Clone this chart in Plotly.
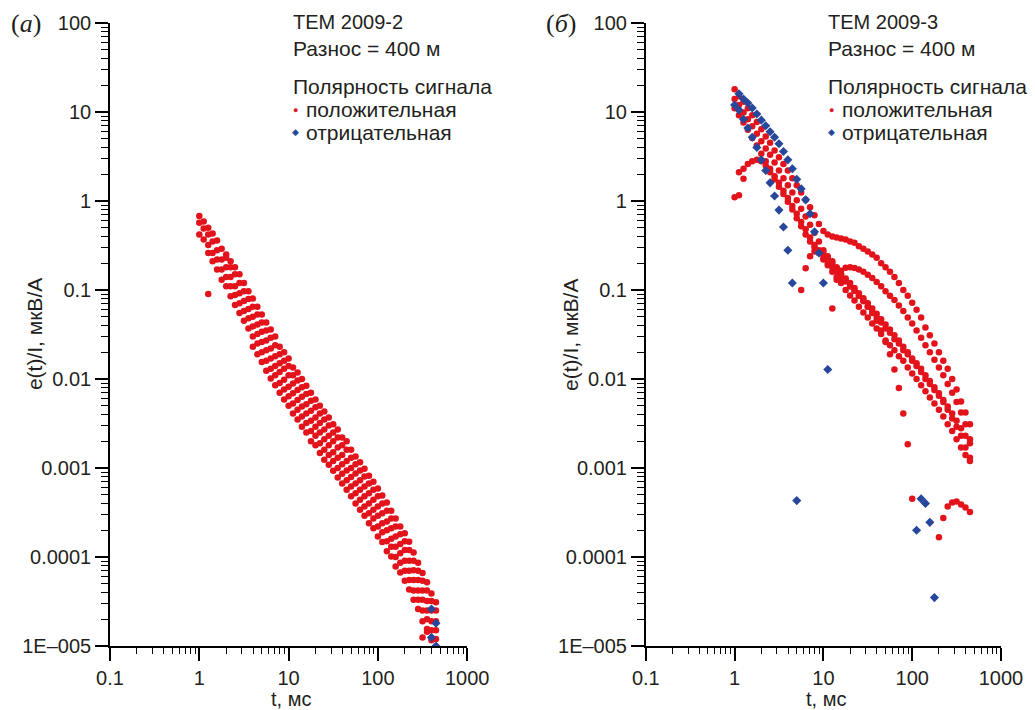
import plotly.graph_objects as go

# ---------------- data ----------------
# time gates, ms
gates = [1.00, 1.12, 1.26, 1.41, 1.58, 1.78, 2.00, 2.24, 2.51, 2.82,
         3.16, 3.55, 3.98, 4.47, 5.01, 5.62, 6.31, 7.08, 7.94, 8.91,
         10.0, 11.2, 12.6, 14.1, 15.8, 17.8, 20.0, 22.4, 25.1, 28.2,
         31.6, 35.5, 39.8, 44.7, 50.1, 56.2, 63.1, 70.8, 79.4, 89.1,
         100, 112, 126, 141, 158, 178, 200, 224, 251, 282,
         316, 355, 398, 447]

# panel (a): TEM 2009-2, positive polarity (several soundings)
a_pos_1 = [0.25, 0.21, 0.18, 0.15, 0.12, 0.097, 0.080, 0.065, 0.053, 0.043,
           0.036, 0.030, 0.023, 0.020, 0.017, 0.0135, 0.0118, 0.0100, 0.0084, 0.0070,
           0.0059, 0.0050, 0.0043, 0.0037, 0.0031, 0.0027, 0.0022, 0.0020, 0.0016, 0.00135,
           0.00116, 0.00098, 0.00082, 0.00070, 0.00059, 0.00049, 0.00041, 0.00033, 0.00027, 0.00022,
           0.000185, 0.000148, 0.000112, 0.000086, 0.000066, 0.000052, 0.000039, 0.000031]
a_pos_2 = [0.68, 0.59, 0.50, 0.43, 0.36, 0.29, 0.23, 0.18, 0.15, 0.12,
           0.097, 0.079, 0.065, 0.053, 0.043, 0.035, 0.029, 0.024, 0.019, 0.016,
           0.014, 0.011, 0.0096, 0.0081, 0.0068, 0.0057, 0.0048, 0.0041, 0.0035, 0.0030,
           0.0025, 0.0022, 0.0018, 0.0016, 0.0013, 0.0011, 0.00094, 0.00080, 0.00067, 0.00057,
           0.00048, 0.00040, 0.00033, 0.00027, 0.00022, 0.00018, 0.00015, 0.00012, 0.000091, 0.000070,
           0.000054, 0.000042, 0.000032, 0.000025]
a_pos_3 = [0.57, 0.49, 0.42, 0.35, 0.28, 0.22, 0.18, 0.14, 0.11, 0.092,
           0.075, 0.061, 0.050, 0.041, 0.034, 0.027, 0.022, 0.018, 0.015, 0.013,
           0.011, 0.0089, 0.0075, 0.0063, 0.0052, 0.0044, 0.0037, 0.0032, 0.0027, 0.0023,
           0.0020, 0.0017, 0.0014, 0.0012, 0.0010, 0.00087, 0.00073, 0.00062, 0.00052, 0.00044,
           0.00037, 0.00031, 0.00025, 0.00021, 0.00017, 0.00014, 0.00012, 0.000091, 0.000071, 0.000055,
           0.000042, 0.000032, 0.000025, 0.000019]
a_pos_4 = [0.42, 0.37, 0.32, 0.26, 0.22, 0.17, 0.14, 0.11, 0.088, 0.071,
           0.058, 0.048, 0.039, 0.032, 0.026, 0.021, 0.017, 0.014, 0.012, 0.0098,
           0.0082, 0.0069, 0.0058, 0.0049, 0.0041, 0.0034, 0.0029, 0.0025, 0.0021, 0.0018,
           0.0015, 0.0013, 0.0011, 0.00094, 0.00079, 0.00067, 0.00057, 0.00048, 0.00040, 0.00034,
           0.00029, 0.00024, 0.00020, 0.00016, 0.00013, 0.00011, 0.000091, 0.000070, 0.000055, 0.000042,
           0.000033, 0.000025, 0.000019, 0.000015]
a_pos_5 = [0.26, 0.21, 0.17, 0.13, 0.11, 0.085, 0.068, 0.055, 0.045, 0.037,
           0.030, 0.025, 0.020, 0.016, 0.013, 0.011, 0.0090, 0.0076, 0.0064, 0.0053,
           0.0045, 0.0038, 0.0032, 0.0026, 0.0023, 0.0019, 0.0016, 0.0014, 0.0012, 0.0010,
           0.00086, 0.00073, 0.00062, 0.00052, 0.00044, 0.00037, 0.00031, 0.00027, 0.00022, 0.00019,
           0.00015, 0.00013, 0.00010, 0.000086, 0.000070, 0.000055, 0.000042, 0.000033, 0.000025, 0.000020,
           0.000015, 0.000012]
a_pos_6 = [0.023, 0.019, 0.0155, 0.0124, 0.0101, 0.0085, 0.0070, 0.0059, 0.0050, 0.0041,
           0.0035, 0.0029, 0.0025, 0.0020, 0.0018, 0.00147, 0.00124, 0.00109, 0.00093, 0.00078,
           0.00067, 0.00057, 0.00048, 0.00040, 0.00034, 0.00029, 0.00024, 0.00021, 0.00017, 0.000147,
           0.000116, 0.000101, 0.000078, 0.000067, 0.000054, 0.000043, 0.000033, 0.000026, 0.000019, 0.0000155,
           0.0000116]
a_pos_extra_t = [1.26, 316, 355]
a_pos_extra_v = [0.09, 0.0000125, 0.0000145]
a_neg_t = [398, 447, 398, 447]
a_neg_v = [0.000026, 0.000018, 0.0000125, 0.0000100]

# panel (б): TEM 2009-3
b_pos_1 = [18, 15, 13, 11, 9.2, 7.7, 6.4, 5.3, 4.5, 3.7,
           3.1, 2.6, 2.2, 1.8, 1.5, 1.25, 1.03, 0.85, 0.69, 0.55,
           0.46, 0.42, 0.40, 0.39, 0.38, 0.37, 0.35, 0.34, 0.31, 0.29,
           0.27, 0.25, 0.23, 0.20, 0.18, 0.16, 0.14, 0.12, 0.10, 0.086,
           0.072, 0.060, 0.049, 0.038, 0.031, 0.025, 0.020, 0.016, 0.013, 0.010,
           0.0076, 0.0056, 0.0042, 0.0031]
b_pos_2 = [14, 12, 9.9, 8.3, 6.9, 5.7, 4.7, 3.9, 3.3, 2.7,
           2.2, 1.8, 1.5, 1.25, 1.02, 0.82, 0.67, 0.54, 0.44, 0.35,
           0.28, 0.24, 0.21, 0.18, 0.15, 0.13, 0.11, 0.098, 0.086, 0.075,
           0.065, 0.057, 0.049, 0.043, 0.037, 0.033, 0.028, 0.025, 0.021, 0.019,
           0.016, 0.014, 0.012, 0.010, 0.0088, 0.0075, 0.0065, 0.0055, 0.0045, 0.0036,
           0.0029, 0.0023, 0.0017, 0.0013]
b_pos_3 = [11, 9.2, 7.6, 6.3, 5.1, 4.2, 3.4, 2.8, 2.3, 1.9,
           1.6, 1.3, 1.08, 0.88, 0.72, 0.58, 0.48, 0.39, 0.32, 0.27,
           0.22, 0.19, 0.16, 0.14, 0.12, 0.10, 0.087, 0.076, 0.065, 0.056,
           0.049, 0.042, 0.037, 0.032, 0.027, 0.024, 0.021, 0.018, 0.016, 0.0135,
           0.0115, 0.010, 0.0085, 0.0073, 0.0062, 0.0053, 0.0045, 0.0038, 0.0031, 0.0026,
           0.0021, 0.0017, 0.0014, 0.0012]
# sounding with two sign reversals (gates 0-40 +, 41-45 -, 46-53 +)
b_pos_4 = [1.1, 2.1, 2.3, 2.6, 2.8, 2.9, 2.8, 2.5, 2.1, 1.75,
           1.45, 1.2, 0.98, 0.80, 0.64, 0.52, 0.42, 0.35, 0.30, 0.26,
           0.23, 0.20, 0.18, 0.16, 0.14, 0.125, 0.11, 0.098, 0.086, 0.075,
           0.065, 0.055, 0.045, 0.035, 0.026, 0.019, 0.0128, 0.0079, 0.0041, 0.00185,
           0.00045]
b_neg_4 = [0.00020, 0.00045, 0.00040, 0.000245, 0.000035]
b_pos_4b = [0.000167, 0.000275, 0.00037, 0.00041, 0.00042, 0.00039, 0.00036, 0.00032]
# sounding: negative at gates 1-21, positive (hump) at gates 22-53
b_neg_1 = [16, 14, 12.6, 11.1, 9.5, 8.1, 7.0, 6.0, 5.2, 4.4,
           3.6, 2.9, 2.3, 1.75, 1.37, 1.03, 0.72, 0.45, 0.26, 0.12,
           0.0128]
b_pos_5 = [0.062, 0.13, 0.165, 0.178, 0.18, 0.177, 0.17, 0.16, 0.148, 0.136,
           0.123, 0.110, 0.097, 0.086, 0.077, 0.067, 0.058, 0.049, 0.042, 0.035,
           0.029, 0.024, 0.020, 0.0165, 0.0135, 0.011, 0.0088, 0.0070, 0.0055, 0.0042,
           0.0031, 0.0021]
# sounding: negative at gates 0-14, positive at gates 15-53
b_neg_2 = [12, 10.5, 8.3, 6.6, 5.2, 4.0, 2.9, 2.2, 1.6, 1.14,
           0.79, 0.51, 0.28, 0.12, 0.00043]
b_pos_6 = [0.10, 0.175, 0.24, 0.27, 0.28, 0.26, 0.23, 0.20, 0.175, 0.15,
           0.135, 0.12, 0.105, 0.092, 0.081, 0.071, 0.062, 0.054, 0.047, 0.041,
           0.036, 0.031, 0.027, 0.023, 0.020, 0.017, 0.015, 0.013, 0.011, 0.0095,
           0.0081, 0.0069, 0.0058, 0.0049, 0.0041, 0.0034, 0.0028, 0.0023, 0.0019]
b_pos_extra_t = [1.12, 1.26]
b_pos_extra_v = [1.16, 1.78]

x_ticks = [0.1, 1, 10, 100, 1000]
x_ticktext = ["0.1", "1", "10", "100", "1000"]
y_ticks = [1e-5, 1e-4, 1e-3, 1e-2, 1e-1, 1, 10, 100]
y_ticktext = ["1E\u2013005", "0.0001", "0.001", "0.01", "0.1", "1", "10", "100"]

# ---------------- style ----------------
RED = "#e3131c"
BLUE = "#27479b"
TXT = "#231f20"
FONT = "Liberation Sans, Arial, sans-serif"

fig = go.Figure()


def pos(x, y, xa, ya):
    fig.add_trace(go.Scatter(x=x, y=y, mode="markers", xaxis=xa, yaxis=ya,
                             marker=dict(symbol="circle", size=6.5, color=RED),
                             showlegend=False, hoverinfo="x+y"))


def neg(x, y, xa, ya):
    fig.add_trace(go.Scatter(x=x, y=y, mode="markers", xaxis=xa, yaxis=ya,
                             marker=dict(symbol="diamond", size=7, color=BLUE),
                             showlegend=False, hoverinfo="x+y"))


# panel (a)
pos(gates[6:], a_pos_1, "x", "y")
pos(gates, a_pos_2, "x", "y")
pos(gates, a_pos_3, "x", "y")
pos(gates, a_pos_4, "x", "y")
pos(gates[2:], a_pos_5, "x", "y")
pos(gates[12:53], a_pos_6, "x", "y")
pos(a_pos_extra_t, a_pos_extra_v, "x", "y")
neg(a_neg_t, a_neg_v, "x", "y")

# panel (б)
pos(gates, b_pos_1, "x2", "y2")
pos(gates, b_pos_2, "x2", "y2")
pos(gates, b_pos_3, "x2", "y2")
pos(gates[0:41], b_pos_4, "x2", "y2")
pos(gates[46:], b_pos_4b, "x2", "y2")
pos(gates[22:], b_pos_5, "x2", "y2")
pos(gates[15:], b_pos_6, "x2", "y2")
pos(b_pos_extra_t, b_pos_extra_v, "x2", "y2")
neg(gates[1:22], b_neg_1, "x2", "y2")
neg(gates[0:15], b_neg_2, "x2", "y2")
neg(gates[41:46], b_neg_4, "x2", "y2")

W, H = 1035, 710
ML, MR, MT, MB = 110, 27, 20, 64
PW = W - ML - MR
PH = H - MT - MB


def px(xp):
    return (xp - ML) / PW


def py(yp):
    return (H - MB - yp) / PH


xcommon = dict(type="log", range=[-1, 3], showline=True, linecolor="black", linewidth=1.6,
               ticks="outside", ticklen=13, tickwidth=1.6, tickcolor="black",
               tickmode="array", tickvals=x_ticks, ticktext=x_ticktext,
               showgrid=False, zeroline=False,
               tickfont=dict(family=FONT, size=20, color=TXT),
               minor=dict(ticks="outside", ticklen=6, tickwidth=1.3, tickcolor="black",
                          dtick="D1", showgrid=False))
ycommon = dict(type="log", range=[-5, 2], showline=True, linecolor="black", linewidth=1.6,
               ticks="outside", ticklen=13, tickwidth=1.6, tickcolor="black",
               tickmode="array", tickvals=y_ticks, ticktext=y_ticktext,
               showgrid=False, zeroline=False,
               tickfont=dict(family=FONT, size=20, color=TXT),
               minor=dict(ticks="outside", ticklen=7, tickwidth=1.3, tickcolor="black",
                          dtick="D1", showgrid=False))

fig.update_layout(
    width=W, height=H, autosize=False,
    margin=dict(l=ML, r=MR, t=MT, b=MB, pad=0),
    paper_bgcolor="white", plot_bgcolor="white",
    showlegend=False,
    font=dict(family=FONT, size=20, color=TXT),
    xaxis=dict(domain=[0, 360 / PW], anchor="y", **xcommon),
    yaxis=dict(domain=[0, 1], anchor="x", **ycommon),
    xaxis2=dict(domain=[540 / PW, 1], anchor="y2", **xcommon),
    yaxis2=dict(domain=[0, 1], anchor="x2", **ycommon),
)

ann = []


def text(xp, yp, s, size=21, xanchor="left", angle=0, family=FONT, color=TXT):
    ann.append(dict(x=px(xp), y=py(yp), xref="paper", yref="paper", text=s,
                    showarrow=False, xanchor=xanchor, yanchor="middle", textangle=angle,
                    font=dict(family=family, size=size, color=color)))


for off, label, title in [(0, "(<i>а</i>)", "ТЕМ 2009-2"), (540, "(<i>б</i>)", "ТЕМ 2009-3")]:
    text(25 + off, 21, label, size=26, xanchor="center", family="Liberation Serif, serif")
    text(292 + off, 19, title, size=20)
    text(292 + off, 46, "Разнос = 400 м")
    text(292 + off, 84, "Полярность сигнала")
    text(297 + off, 107, "●", size=9, xanchor="center", color=RED)
    text(306 + off, 107, "положительная")
    text(297 + off, 130, "◆", size=9, xanchor="center", color=BLUE)
    text(306 + off, 130, "отрицательная")
    text(34 + off, 333, "e(t)/I, мкВ/А", angle=-90, xanchor="center")
    text(292 + off, 699, "t, мс", size=20, xanchor="center")

fig.update_layout(annotations=ann)
fig.write_html("out.html")
